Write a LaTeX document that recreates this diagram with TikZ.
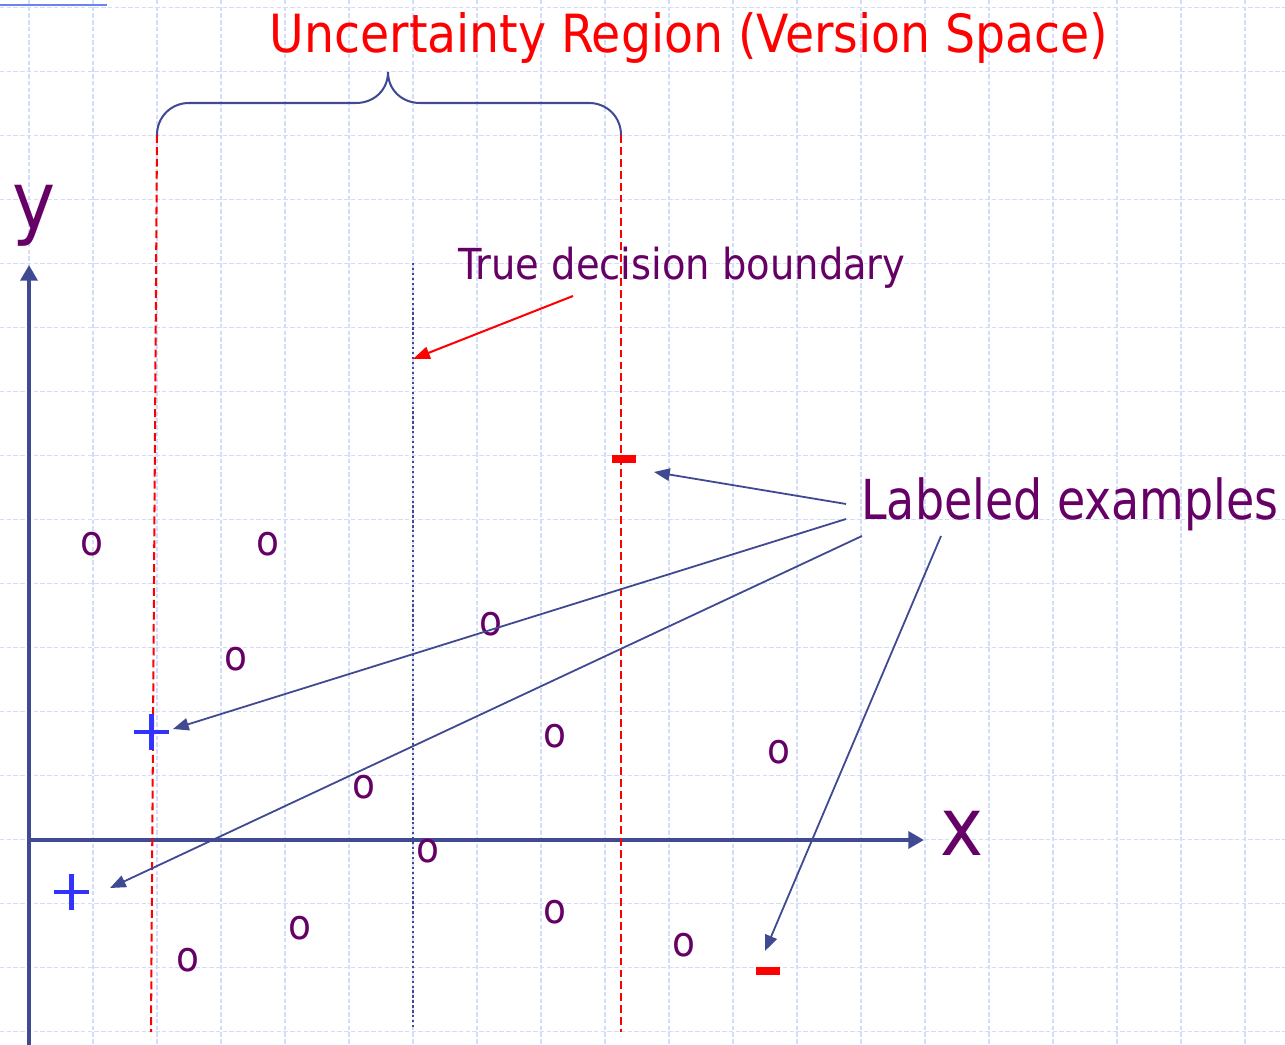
\documentclass[tikz,border=0pt]{standalone}
\usepackage{fontspec}
\setmainfont{DejaVu Sans Condensed}
\usetikzlibrary{arrows.meta}
\definecolor{Plum}{HTML}{660066}
\definecolor{Navy}{HTML}{404A92}
\definecolor{GridBlue}{HTML}{D3DCFA}
\definecolor{PlusBlue}{HTML}{3333FF}
\definecolor{TopBlue}{HTML}{6A84F2}

\begin{document}
\begin{tikzpicture}[x=0.015625cm, y=-0.015625cm, every node/.style={inner sep=0pt, text=Plum}, gridline/.style={GridBlue, line width=0.7pt, dash pattern=on 2pt off 1pt}, axis/.style={Navy, line width=1.8pt, -{Triangle[length=7pt,width=7.5pt]}}, region/.style={red, line width=0.9pt, dash pattern=on 3.5pt off 1.8pt}, arrow/.style={Navy, line width=0.8pt, -{Triangle[length=7pt,width=5.5pt]}}, sample/.style={font=\fontsize{18.5pt}{18.5pt}\selectfont}, plusmark/.style={minimum size=16pt, path picture={\draw[PlusBlue, line width=1.8pt] (path picture bounding box.north) -- (path picture bounding box.south) (path picture bounding box.west) -- (path picture bounding box.east);}}, minusmark/.style={fill=red, minimum width=10.6pt, minimum height=3.5pt}]
\useasboundingbox[fill=white] (0,0) rectangle (1285,1045);
\foreach \i in {0,...,19}{\draw[gridline] ({29+64*\i},0) -- ({29+64*\i},1045);}
\foreach \j in {0,...,16}{\draw[gridline] (0,{7.7+64*\j}) -- (1285,{7.7+64*\j});}
\draw[TopBlue, line width=1pt] (0,5) -- (107,5);

\node[font=\fontsize{23.4pt}{23.4pt}\selectfont, text=red, anchor=base] (title) at (689,53) {Uncertainty Region (Version Space)};
\node[font=\fontsize{19pt}{19pt}\selectfont, anchor=base] (truth) at (682,280) {True decision boundary};
\node[font=\fontsize{24.5pt}{24.5pt}\selectfont, anchor=base] (lab) at (1070,520) {\scalebox{0.926}[1]{Labeled examples}};
\node[font=\fontsize{36pt}{36pt}\selectfont, anchor=base] (xlab) at (962,855) {x};
\node[font=\fontsize{36pt}{36pt}\selectfont, anchor=base] (ylab) at (34,230) {y};

\coordinate (o) at (29,840);
\coordinate (ybot) at (29,1045);
\coordinate (ytop) at (29,265);
\coordinate (xend) at (924,840);
\draw[axis] (ybot) -- (ytop);
\draw[axis] (o) -- (xend);

\coordinate (bl) at (157,135);
\coordinate (br) at (621,135);
\coordinate (blb) at (151,1032);
\coordinate (brb) at (621,1032);
\draw[region] (bl) -- (blb);
\draw[region] (br) -- (brb);
\draw[Navy, line width=0.9pt] (bl) .. controls (157,117) and (171,103) .. (189,103) -- (356,103) .. controls (374,103) and (388,90) .. (388,72) .. controls (388,90) and (402,103) .. (420,103) -- (589,103) .. controls (607,103) and (621,117) .. (br);

\coordinate (dtop) at (413,263);
\coordinate (dbot) at (413,1030);
\draw[Navy, line width=0.7pt, dash pattern=on 1pt off 1.2pt] (dtop) -- (dbot);
\coordinate (rs) at (573,296);
\coordinate (rt) at (413,359);
\draw[red, line width=0.9pt, -{Triangle[length=7.5pt,width=5.5pt]}] (rs) -- (rt);

\foreach \n/\x/\y in {a/92/544,b/268/544,c/236/659,d/491/624,e/555/736,f/779/752,g/364/787,h/428/851,i/300/928,j/188/960,k/555/912,l/684/945}{\node[sample] (\n) at (\x,\y) {o};}
\node[plusmark] (p1) at (151.5,732) {};
\node[plusmark] (p2) at (71.5,892) {};
\node[minusmark] (m1) at (624,459) {};
\node[minusmark] (m2) at (768,971) {};

\coordinate (s1) at (846,504);
\coordinate (s2) at (846,519);
\coordinate (s3) at (862,536);
\coordinate (s4) at (941,536);
\coordinate (t1) at (654,472);
\coordinate (t2) at (173,729);
\coordinate (t3) at (110,888);
\coordinate (t4) at (765,951);
\foreach \s/\t in {s1/t1,s2/t2,s3/t3,s4/t4}{\draw[arrow] (\s) -- (\t);}
\end{tikzpicture}
\end{document}
